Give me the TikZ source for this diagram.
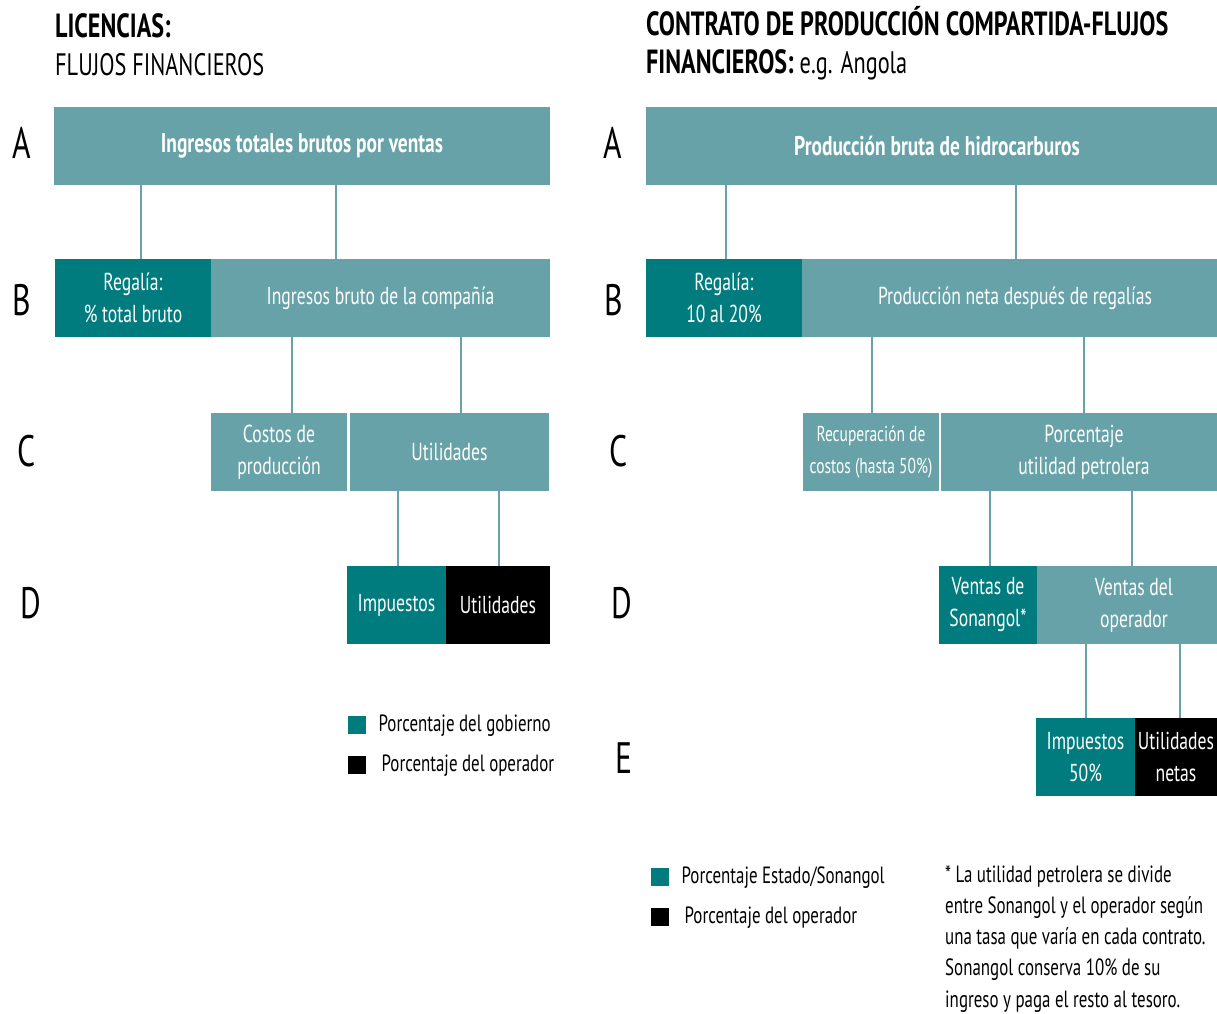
\documentclass[tikz,border=0pt]{standalone}
\usepackage{fontspec}
\setmainfont[FakeStretch=0.72]{PT Sans}
\usetikzlibrary{positioning}
\definecolor{lteal}{HTML}{67A2A9}
\definecolor{dteal}{HTML}{007C7F}
\newcommand\bxfont{\fontsize{24.5}{32}\selectfont}
\tikzstyle{bx}=[anchor=north west, inner sep=0pt, outer sep=0pt, minimum height=78pt, text=white, align=center, font=\bxfont]
\tikzstyle{lb}=[bx, fill=lteal]
\tikzstyle{db}=[bx, fill=dteal]
\tikzstyle{kb}=[bx, fill=black]
\tikzstyle{ln}=[draw=lteal, line width=2.8pt]
\tikzstyle{rl}=[font=\fontsize{44}{44}\selectfont]
\tikzstyle{ttl}=[anchor=base west, inner sep=0pt, font=\fontsize{31}{31}\selectfont]
\tikzstyle{sq}=[minimum size=18pt, inner sep=0pt, anchor=north west]
\tikzstyle{lg}=[inner sep=0pt, font=\fontsize{23.5}{23.5}\selectfont]
\begin{document}
\begin{tikzpicture}[x=1pt, y=-1pt]
\useasboundingbox[fill=white] (0,0) rectangle (1217,1013);
% titles
\node[ttl, font=\fontsize{33.5}{33.5}\selectfont\bfseries] (t1) at (55,37) {LICENCIAS:};
\node[ttl] (t2) at (55,75) {FLUJOS FINANCIEROS};
\node[ttl, font=\fontsize{33.5}{33.5}\selectfont\bfseries] (t3) at (646,35) {CONTRATO DE PRODUCCIÓN COMPARTIDA-FLUJOS};
\node[ttl] (t4) at (646,73) {{\fontsize{33.5}{33.5}\selectfont\bfseries FINANCIEROS:} e.g. Angola};
% row letters
\node[rl] (lrA) at (22,143) {A};
\node[rl] (lrB) at (22,300) {B};
\node[rl] (lrC) at (27,451) {C};
\node[rl] (lrD) at (31,603) {D};
\node[rl] (rrA) at (613,143) {A};
\node[rl] (rrB) at (614,300) {B};
\node[rl] (rrC) at (619,451) {C};
\node[rl] (rrD) at (622,603) {D};
\node[rl] (rrE) at (624,758) {E};
% licencias
\node[lb, minimum width=496pt, font=\fontsize{27}{32}\selectfont\bfseries] (lA) at (54,107) {Ingresos totales brutos por ventas};
\node[db, minimum width=156pt] (lBa) at (55,259) {Regalía:\\\% total bruto};
\node[lb, minimum width=339pt, right=0pt of lBa] (lBb) {Ingresos bruto de la compañía};
\node[lb, minimum width=136pt] (lCa) at (211,413) {Costos de\\producción};
\node[lb, minimum width=199pt, right=3pt of lCa] (lCb) {Utilidades};
\node[db, minimum width=99pt] (lDa) at (347,566) {Impuestos};
\node[kb, minimum width=104pt, right=0pt of lDa] (lDb) {Utilidades};
\draw[ln] (141,0 |- lA.south) -- (141,0 |- lBa.north);
\draw[ln] (336,0 |- lA.south) -- (336,0 |- lBb.north);
\draw[ln] (292,0 |- lBb.south) -- (292,0 |- lCa.north);
\draw[ln] (461,0 |- lBb.south) -- (461,0 |- lCb.north);
\draw[ln] (398,0 |- lCb.south) -- (398,0 |- lDa.north);
\draw[ln] (499,0 |- lCb.south) -- (499,0 |- lDb.north);
\node[sq, fill=dteal] (lgG) at (348,716) {};
\node[lg, right=12pt of lgG] (lgGt) {Porcentaje del gobierno};
\node[sq, fill=black] (lgO) at (348,756) {};
\node[lg, right=15pt of lgO] (lgOt) {Porcentaje del operador};
% contrato
\node[lb, minimum width=582pt, font=\fontsize{27}{32}\selectfont\bfseries] (rA) at (646,107) {Producción bruta de hidrocarburos};
\node[db, minimum width=156pt] (rBa) at (646,259) {Regalía:\\10 al 20\%};
\node[lb, minimum width=426pt, right=0pt of rBa] (rBb) {Producción neta después de regalías};
\node[lb, minimum width=136pt, font=\fontsize{21.5}{32}\selectfont] (rCa) at (803,413) {Recuperación de\\costos (hasta 50\%)};
\node[lb, minimum width=286pt, right=2pt of rCa] (rCb) {Porcentaje\\utilidad petrolera};
\node[db, minimum width=98pt] (rDa) at (939,566) {Ventas de\\Sonangol*};
\node[lb, minimum width=194pt, right=0pt of rDa] (rDb) {Ventas del\\operador};
\node[db, minimum width=99pt] (rEa) at (1036,718) {Impuestos\\50\%};
\node[kb, minimum width=82pt, right=0pt of rEa] (rEb) {Utilidades\\netas};
\draw[ln] (726,0 |- rA.south) -- (726,0 |- rBa.north);
\draw[ln] (1016,0 |- rA.south) -- (1016,0 |- rBb.north);
\draw[ln] (872,0 |- rBb.south) -- (872,0 |- rCa.north);
\draw[ln] (1084,0 |- rBb.south) -- (1084,0 |- rCb.north);
\draw[ln] (990,0 |- rCb.south) -- (990,0 |- rDa.north);
\draw[ln] (1132,0 |- rCb.south) -- (1132,0 |- rDb.north);
\draw[ln] (1086,0 |- rDb.south) -- (1086,0 |- rEa.north);
\draw[ln] (1180,0 |- rDb.south) -- (1180,0 |- rEb.north);
\node[sq, fill=dteal] (lgS) at (651,868) {};
\node[lg, right=12pt of lgS] (lgSt) {Porcentaje Estado/Sonangol};
\node[sq, fill=black] (lgP) at (651,908) {};
\node[lg, right=15pt of lgP] (lgPt) {Porcentaje del operador};
\node[anchor=north west, inner sep=0pt, align=left, font=\fontsize{23.5}{31.3}\selectfont] (fn) at (945,865)
  {* La utilidad petrolera se divide\\entre Sonangol y el operador según\\una tasa que varía en cada contrato.\\Sonangol conserva 10\% de su\\ingreso y paga el resto al tesoro.};
\end{tikzpicture}
\end{document}
